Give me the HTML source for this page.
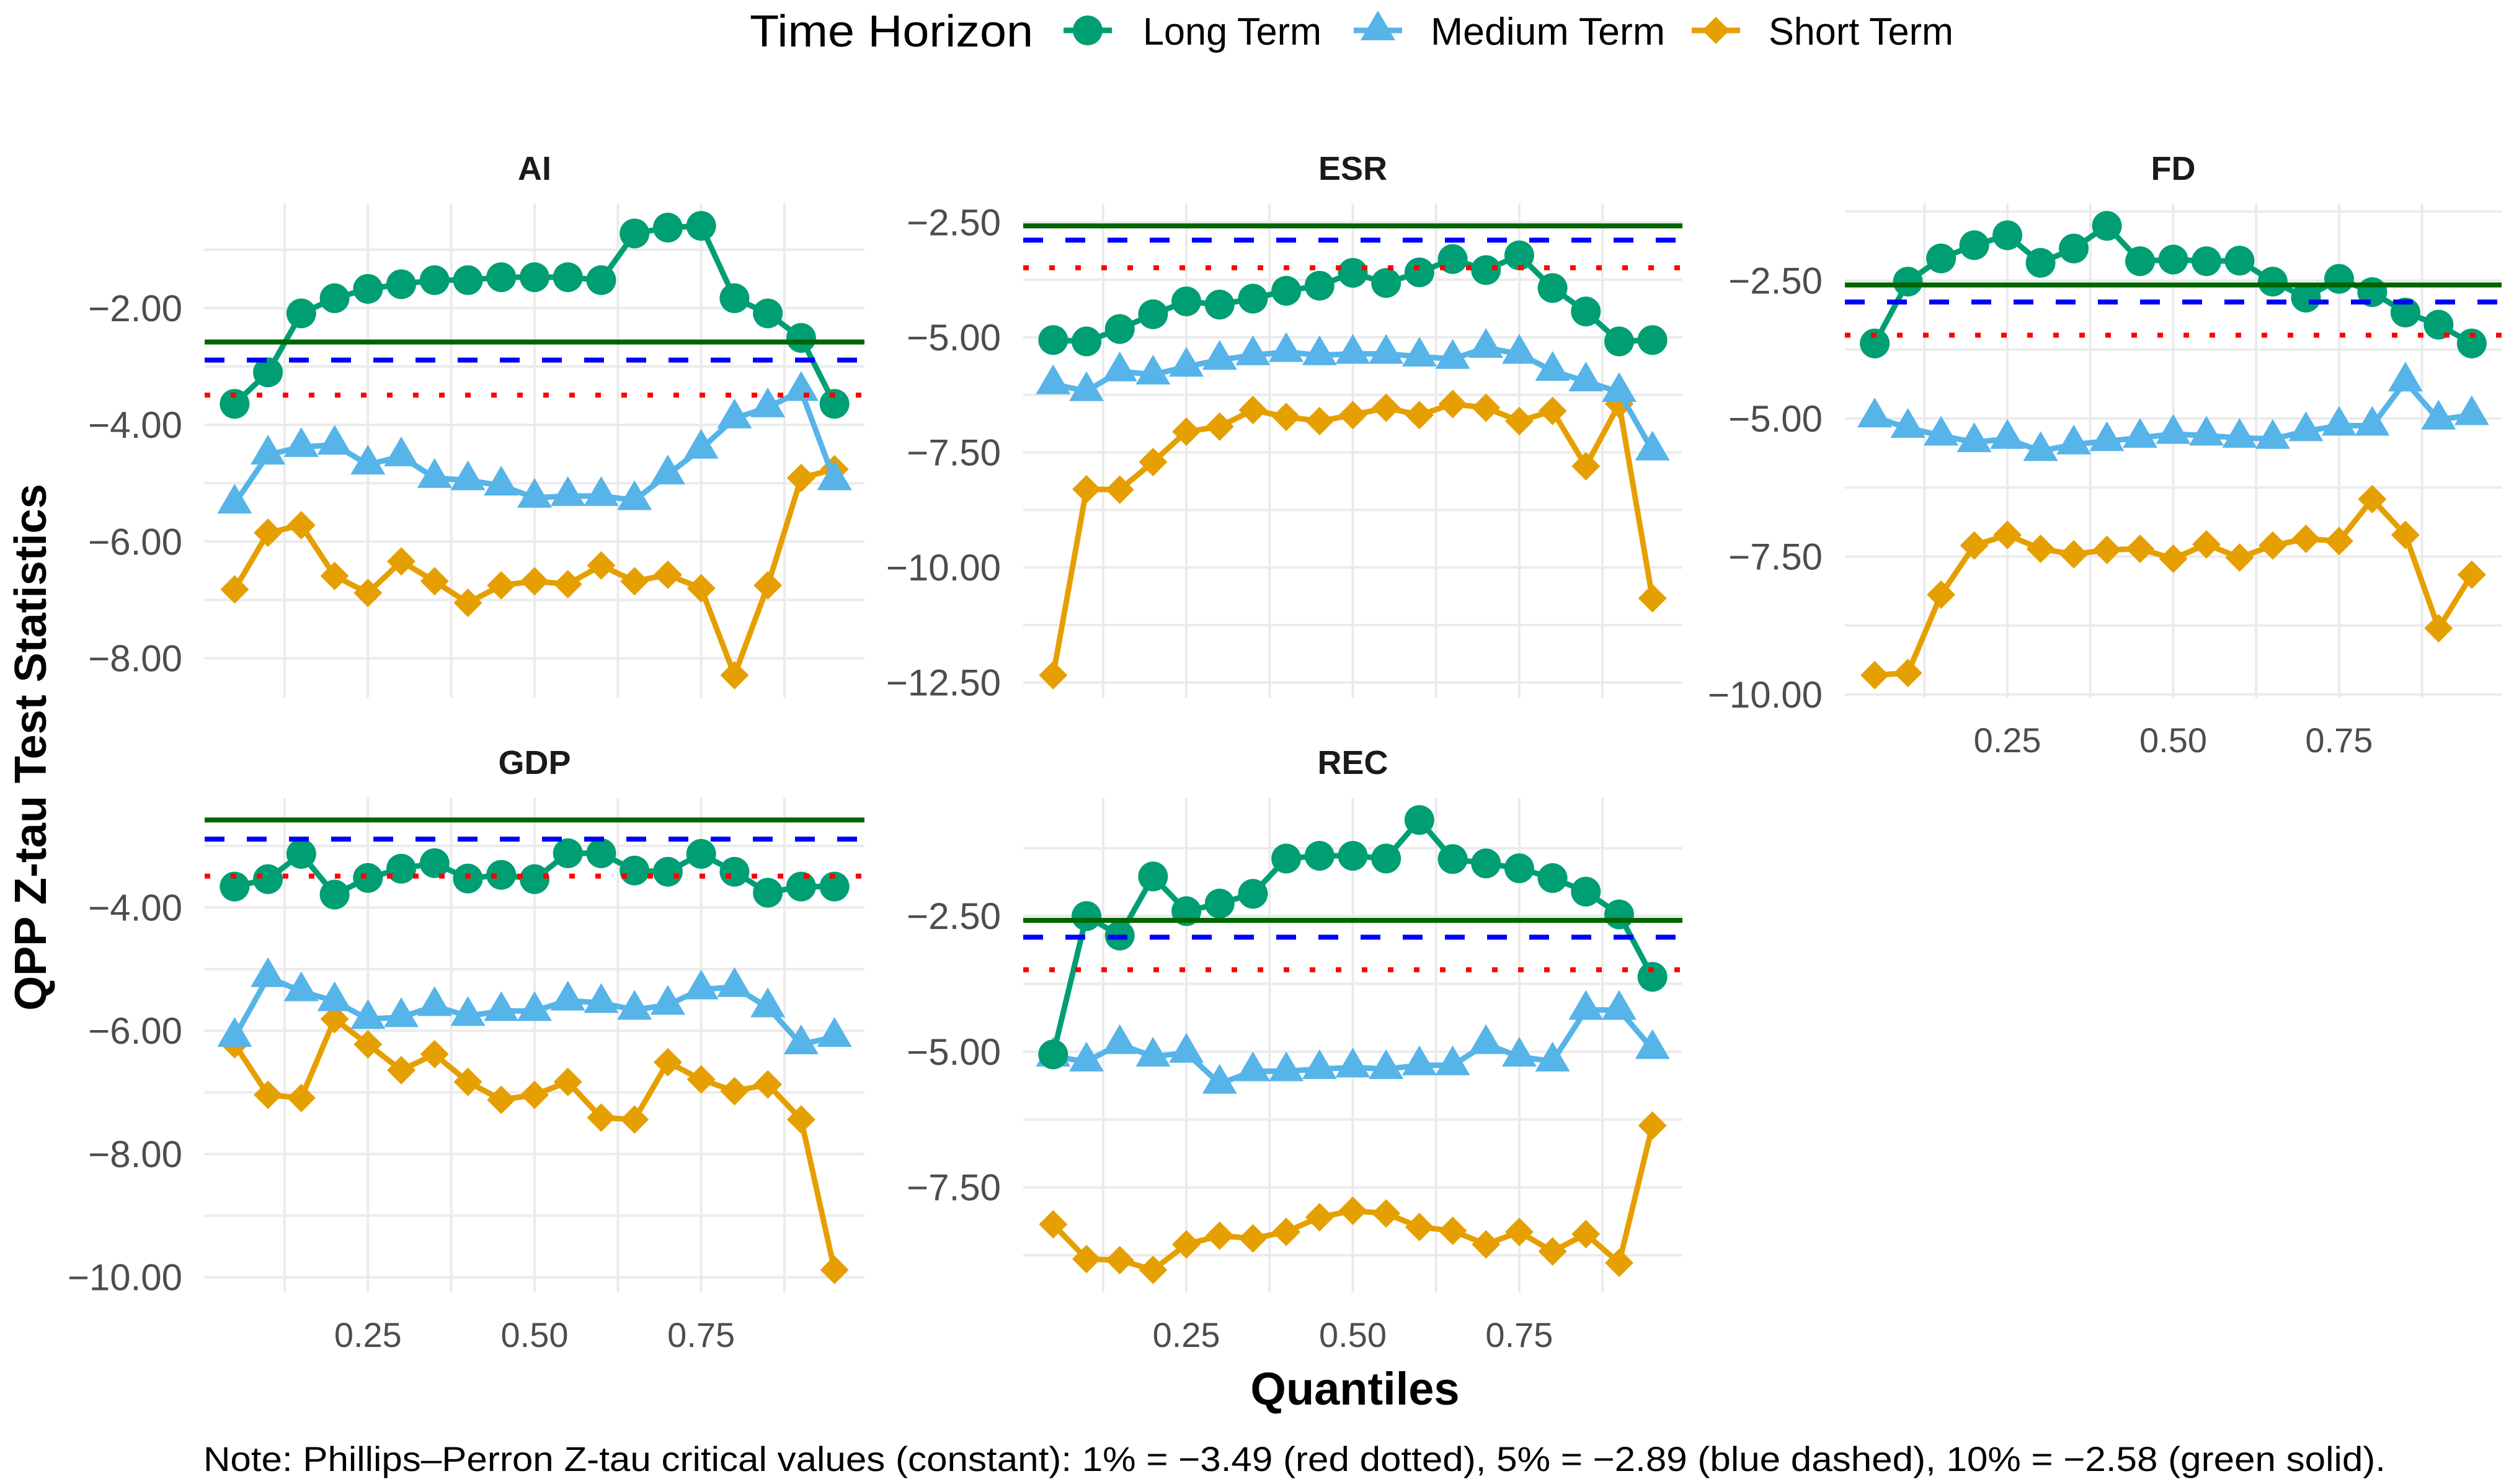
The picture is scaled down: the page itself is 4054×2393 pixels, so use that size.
<!DOCTYPE html>
<html><head><meta charset="utf-8"><style>
html,body{margin:0;padding:0;background:#fff;}
svg{display:block;font-family:"Liberation Sans",sans-serif;}
</style></head>
<body>
<svg id="chart" width="4054" height="2393" viewBox="0 0 4054 2393" xmlns="http://www.w3.org/2000/svg">
<rect x="0" y="0" width="4054" height="2393" fill="#fff"/>
<g id="legend">
  <text x="1209" y="75" font-size="72" textLength="457" lengthAdjust="spacingAndGlyphs" fill="#000">Time Horizon</text>
  <g>
    <line x1="1715" y1="49" x2="1793" y2="49" stroke="#009E73" stroke-width="9"/>
    <circle cx="1754" cy="49" r="24" fill="#009E73"/>
    <text x="1843" y="72" font-size="62" textLength="288" lengthAdjust="spacingAndGlyphs" fill="#000">Long Term</text>
  </g>
  <g>
    <line x1="2183" y1="49" x2="2261" y2="49" stroke="#56B4E9" stroke-width="9"/>
    <polygon points="2222,17 2250,65 2194,65" fill="#56B4E9"/>
    <text x="2307" y="72" font-size="62" textLength="378" lengthAdjust="spacingAndGlyphs" fill="#000">Medium Term</text>
  </g>
  <g>
    <line x1="2728" y1="49" x2="2806" y2="49" stroke="#E69F00" stroke-width="9"/>
    <polygon points="2767,27 2789,49 2767,71 2745,49" fill="#E69F00"/>
    <text x="2852" y="72" font-size="62" textLength="298" lengthAdjust="spacingAndGlyphs" fill="#000">Short Term</text>
  </g>
</g>
<text transform="translate(74,1205) rotate(-90)" text-anchor="middle" font-size="72" font-weight="bold" fill="#000">QPP Z-tau Test Statistics</text>
<text x="2185" y="2265" text-anchor="middle" font-size="74" font-weight="bold" fill="#000">Quantiles</text>
<text x="328" y="2372" font-size="56" textLength="3519" lengthAdjust="spacingAndGlyphs" fill="#000">Note: Phillips–Perron Z-tau critical values (constant): 1% = −3.49 (red dotted), 5% = −2.89 (blue dashed), 10% = −2.58 (green solid).</text>
<g id="panels"></g>
</svg>
<script>
const quantiles = [0.05,0.10,0.15,0.20,0.25,0.30,0.35,0.40,0.45,0.50,0.55,0.60,0.65,0.70,0.75,0.80,0.85,0.90,0.95];
const xTicks = [0.25,0.50,0.75];
const critValues = [-3.49,-2.89,-2.58];

const aiLong = [-3.64,-3.10,-2.09,-1.83,-1.67,-1.59,-1.52,-1.52,-1.47,-1.47,-1.47,-1.52,-0.72,-0.62,-0.59,-1.83,-2.09,-2.51,-3.64];
const aiMedium = [-5.35,-4.51,-4.38,-4.34,-4.68,-4.54,-4.91,-4.95,-5.04,-5.25,-5.22,-5.22,-5.29,-4.85,-4.41,-3.89,-3.70,-3.42,-4.95];
const aiShort = [-6.82,-5.85,-5.72,-6.59,-6.88,-6.34,-6.68,-7.05,-6.75,-6.68,-6.73,-6.41,-6.68,-6.57,-6.80,-8.29,-6.75,-4.91,-4.76];
const aiTicks = [-2,-4,-6,-8];

const esrLong = [-5.06,-5.09,-4.82,-4.50,-4.22,-4.29,-4.16,-3.99,-3.88,-3.60,-3.82,-3.59,-3.30,-3.54,-3.22,-3.93,-4.44,-5.09,-5.06];
const esrMedium = [-6.02,-6.17,-5.74,-5.81,-5.64,-5.49,-5.39,-5.32,-5.39,-5.36,-5.36,-5.42,-5.47,-5.23,-5.36,-5.73,-5.96,-6.19,-7.46];
const esrShort = [-12.34,-8.30,-8.31,-7.71,-7.05,-6.94,-6.58,-6.73,-6.82,-6.69,-6.53,-6.69,-6.45,-6.53,-6.82,-6.60,-7.80,-6.45,-10.67];
const esrTicks = [-2.5,-5,-7.5,-10,-12.5];

const fdLong = [-3.64,-2.52,-2.10,-1.86,-1.68,-2.18,-1.92,-1.51,-2.15,-2.12,-2.15,-2.14,-2.52,-2.81,-2.47,-2.71,-3.08,-3.30,-3.64];
const fdMedium = [-4.98,-5.17,-5.31,-5.43,-5.37,-5.59,-5.47,-5.41,-5.35,-5.28,-5.31,-5.35,-5.37,-5.23,-5.13,-5.13,-4.33,-5.02,-4.94];
const fdShort = [-9.65,-9.61,-8.19,-7.30,-7.11,-7.36,-7.46,-7.38,-7.36,-7.54,-7.28,-7.52,-7.30,-7.18,-7.22,-6.46,-7.11,-8.80,-7.83];
const fdTicks = [-2.5,-5,-7.5,-10];

const gdpLong = [-3.66,-3.54,-3.13,-3.79,-3.52,-3.37,-3.28,-3.53,-3.47,-3.54,-3.12,-3.12,-3.40,-3.42,-3.13,-3.42,-3.76,-3.66,-3.66];
const gdpMedium = [-6.10,-5.13,-5.36,-5.52,-5.81,-5.78,-5.60,-5.76,-5.68,-5.68,-5.51,-5.55,-5.66,-5.58,-5.33,-5.29,-5.62,-6.22,-6.10];
const gdpShort = [-6.22,-7.04,-7.09,-5.81,-6.22,-6.64,-6.38,-6.83,-7.12,-7.04,-6.83,-7.41,-7.44,-6.51,-6.79,-6.98,-6.87,-7.44,-9.88];
const gdpTicks = [-4,-6,-8,-10];

const recLong = [-5.05,-2.50,-2.86,-1.77,-2.41,-2.27,-2.09,-1.44,-1.39,-1.39,-1.44,-0.73,-1.45,-1.53,-1.62,-1.80,-2.05,-2.47,-3.62];
const recMedium = [-5.09,-5.18,-4.86,-5.09,-5.02,-5.59,-5.36,-5.36,-5.32,-5.29,-5.32,-5.25,-5.25,-4.86,-5.09,-5.18,-4.23,-4.23,-4.95];
const recShort = [-8.18,-8.82,-8.84,-9.02,-8.55,-8.39,-8.44,-8.32,-8.05,-7.93,-7.98,-8.23,-8.30,-8.55,-8.32,-8.68,-8.36,-8.89,-6.36];
const recTicks = [-2.5,-5,-7.5];

const NS = "http://www.w3.org/2000/svg";
const COLORS = {long:"#009E73", medium:"#56B4E9", short:"#E69F00"};
const CRIT_STYLE = [
  {stroke:"#FF0000", dash:"9 33", name:"critical-1pct-line"},
  {stroke:"#0000FF", dash:"32 36", name:"critical-5pct-line"},
  {stroke:"#006400", dash:null, name:"critical-10pct-line"}
];
const panelsLayout = [
  {key:"ai", title:"AI", x0:330, x1:1394, y0:328, y1:1125, long:aiLong, medium:aiMedium, short:aiShort, ticks:aiTicks, xlabels:false},
  {key:"esr", title:"ESR", x0:1650, x1:2713, y0:328, y1:1125, long:esrLong, medium:esrMedium, short:esrShort, ticks:esrTicks, xlabels:false},
  {key:"fd", title:"FD", x0:2975, x1:4034, y0:328, y1:1125, long:fdLong, medium:fdMedium, short:fdShort, ticks:fdTicks, xlabels:true},
  {key:"gdp", title:"GDP", x0:330, x1:1394, y0:1286, y1:2084, long:gdpLong, medium:gdpMedium, short:gdpShort, ticks:gdpTicks, xlabels:true},
  {key:"rec", title:"REC", x0:1650, x1:2713, y0:1286, y1:2084, long:recLong, medium:recMedium, short:recShort, ticks:recTicks, xlabels:true}
];

function mk(tag, attrs, parent){
  const e = document.createElementNS(NS, tag);
  for (const k in attrs) e.setAttribute(k, attrs[k]);
  parent.appendChild(e);
  return e;
}
function fmt(v){ return (v<0?"\u2212":"") + Math.abs(v).toFixed(2); }

const root = document.getElementById("panels");
panelsLayout.forEach(p => {
  const g = mk("g", {}, root);
  
  
  const all = p.long.concat(p.medium, p.short, critValues);
  const mn = Math.min(...all), mx = Math.max(...all), R = mx - mn;
  const dLo = mn - 0.05*R, dHi = mx + 0.05*R;
  const xLo = 0.05 - 0.045, xHi = 0.95 + 0.045;
  const xs = v => p.x0 + (v - xLo)/(xHi - xLo)*(p.x1 - p.x0);
  const ys = v => p.y1 - (v - dLo)/(dHi - dLo)*(p.y1 - p.y0);
  const step = Math.abs(p.ticks[0]-p.ticks[1]);
  const minorStep = step/2;
  const start = Math.ceil(dLo/minorStep)*minorStep;
  for (let v = start; v <= dHi + 1e-9; v += minorStep) {
    const ln = mk("line", {x1:p.x0, x2:p.x1, y1:ys(v), y2:ys(v), stroke:"#ebebeb", "stroke-width":4}, g);
    
    
  }
  for (let v = 0.125; v < 1; v += 0.125) {
    if (v < xLo || v > xHi) continue;
    const ln = mk("line", {x1:xs(v), x2:xs(v), y1:p.y0, y2:p.y1, stroke:"#ebebeb", "stroke-width":4}, g);
    
    
  }
  p.ticks.forEach(t => {
    if (t < dLo || t > dHi) return;
    const tx = mk("text", {x:p.x0-36, y:ys(t)+21, "text-anchor":"end", "font-size":60, fill:"#4d4d4d"}, g);
    tx.textContent = fmt(t);
    
    
  });
  if (p.xlabels) {
    xTicks.forEach(t => {
      const tx = mk("text", {x:xs(t), y:p.y1+88, "text-anchor":"middle", "font-size":56, fill:"#4d4d4d"}, g);
      tx.textContent = t.toFixed(2);
      
      
    });
  }
  const title = mk("text", {x:(p.x0+p.x1)/2, y:p.y0-38, "text-anchor":"middle", "font-size":54, "font-weight":"bold", fill:"#1a1a1a"}, g);
  title.textContent = p.title;
  
  
  [["short", p.short], ["medium", p.medium], ["long", p.long]].forEach(([name, vals]) => {
    const c = COLORS[name];
    const pts = vals.map((v,i) => xs(quantiles[i]).toFixed(1) + "," + ys(v).toFixed(1)).join(" ");
    const pl = mk("polyline", {points:pts, fill:"none", stroke:c, "stroke-width":9, "stroke-linejoin":"round"}, g);
    
    
    vals.forEach((v,i) => {
      const cx = xs(quantiles[i]), cy = ys(v);
      let m;
      if (name === "long") {
        m = mk("circle", {cx:cx, cy:cy, r:24, fill:c}, g);
      } else if (name === "medium") {
        m = mk("polygon", {points:`${cx},${cy-32} ${cx+28},${cy+16} ${cx-28},${cy+16}`, fill:c}, g);
      } else {
        m = mk("polygon", {points:`${cx},${cy-23} ${cx+23},${cy} ${cx},${cy+23} ${cx-23},${cy}`, fill:c}, g);
      }
      
      
    });
  });
  critValues.forEach((cv, i) => {
    const s = CRIT_STYLE[i];
    const at = {x1:p.x0, x2:p.x1, y1:ys(cv), y2:ys(cv), stroke:s.stroke, "stroke-width":8};
    if (s.dash) at["stroke-dasharray"] = s.dash;
    const ln = mk("line", at, g);
    
    
  });
});
</script>
</body></html>
